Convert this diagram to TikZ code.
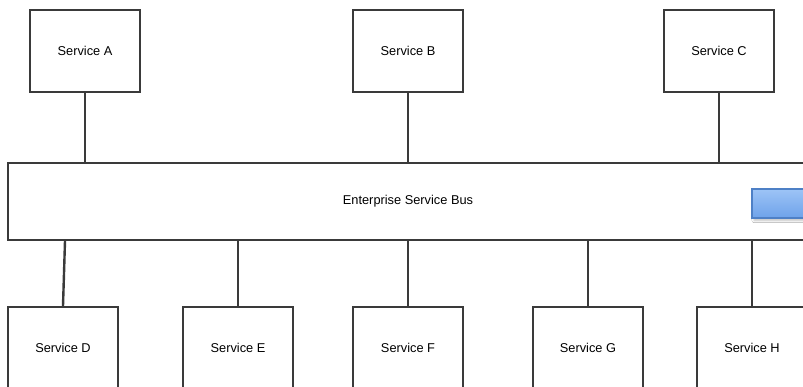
\documentclass[tikz,border=0pt]{standalone}
\usepackage{fontspec}
\setmainfont{Liberation Sans}
\usetikzlibrary{shadows.blur}
\definecolor{edge}{HTML}{3A3A3A}
\definecolor{blueTop}{HTML}{9DC4F6}
\definecolor{blueBot}{HTML}{6EA2EA}
\definecolor{blueEdge}{HTML}{4E80C6}
\begin{document}
\begin{tikzpicture}[x=1pt,y=-1pt,
  svc/.style={draw=edge,line width=2.2pt,fill=white,minimum width=110pt,
    minimum height=82pt,inner sep=0pt,font=\fontsize{12.8}{15}\selectfont},
  link/.style={draw=edge,line width=2.4pt},
  busbox/.style={draw=edge,line width=2.2pt,fill=white,minimum width=800pt,
    minimum height=77pt,inner sep=0pt,font=\fontsize{12.8}{15}\selectfont},
  marker/.style={draw=blueEdge,line width=1.5pt,top color=blueTop,bottom color=blueBot,
    minimum width=80pt,minimum height=29pt,inner sep=0pt,
    blur shadow={shadow xshift=2pt,shadow yshift=-2.5pt,shadow blur steps=6,shadow opacity=25}}]
\useasboundingbox (0,0) rectangle (803,387);
\clip (0,0) rectangle (803,387);

% bus
\node[busbox] (bus) at (408,201.5) {Enterprise Service Bus};
\node[marker] (mk) at (792,203.5) {};

% upper services
\node[svc] (A) at (85,51) {Service A};
\node[svc] (B) at (408,51) {Service B};
\node[svc] (C) at (719,51) {Service C};

% lower services
\node[svc] (D) at (63,348) {Service D};
\node[svc] (E) at (238,348) {Service E};
\node[svc] (F) at (408,348) {Service F};
\node[svc] (G) at (588,348) {Service G};
\node[svc] (H) at (752,348) {Service H};

% connectors to the bus
\draw[link] (A.south) -- (A.south |- bus.north);
\draw[link] (B.south) -- (B.south |- bus.north);
\draw[link] (C.south) -- (C.south |- bus.north);
\coordinate (dtop) at ([xshift=2pt]D.north |- bus.south);
\draw[link] (dtop) -- (D.north);
\draw[link] (E.north |- bus.south) -- (E.north);
\draw[link] (F.north |- bus.south) -- (F.north);
\draw[link] (G.north |- bus.south) -- (G.north);
\draw[link] (H.north |- bus.south) -- (H.north);
\end{tikzpicture}
\end{document}
